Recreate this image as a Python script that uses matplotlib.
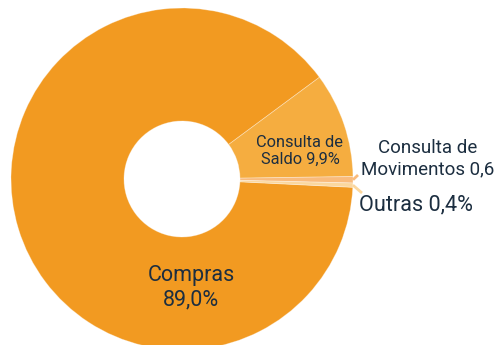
import numpy as np
import matplotlib
matplotlib.use("Agg")
import matplotlib.pyplot as plt

# Transaction share by type (%)
categories = ["Compras", "Consulta de Saldo", "Consulta de Movimentos", "Outras"]
shares = [89.0, 9.9, 0.6, 0.4]
labels = ["Compras\n89,0%", "Consulta de\nSaldo 9,9%", "Consulta de\nMovimentos 0,6", "Outras 0,4%"]
colors = ["#f29a21", "#f5ad40", "#f9bb7c", "#fbd79e"]

W, H = 499, 345
fig = plt.figure(figsize=(W / 100, H / 100), dpi=100)
ax = fig.add_axes([0, 0, 1, 1])

cx, cy = 182, H - 179
r_out, r_in = 171, 58

# Compras ends at 36.5 deg going clockwise, the small slices follow it
total = sum(shares)
start = 36.5 + 360 * shares[0] / total
wedges, _ = ax.pie(shares, colors=colors, startangle=start, counterclock=False,
                   center=(cx, cy), radius=r_out, frame=True,
                   wedgeprops=dict(width=r_out - r_in, edgecolor=(1, 1, 1, 0.35), linewidth=0.6))
ax.set_xlim(0, W)
ax.set_ylim(0, H)
ax.set_aspect("equal")
ax.axis("off")

txt = "#1c2e40"
font = "Roboto"
ax.text(191, H - 288, labels[0], ha="center", va="center", fontsize=15.5, color=txt,
        family=font, linespacing=1.2)
ax.text(300, H - 151, labels[1], ha="center", va="center", fontsize=11.8, color=txt,
        family=font, linespacing=1.22)
ax.text(428, H - 158.5, labels[2], ha="center", va="center", fontsize=13.5, color=txt,
        family=font, linespacing=1.23)
ax.text(359, H - 205, labels[3], ha="left", va="center", fontsize=15.6, color=txt,
        family=font)

# short leader lines for the two thin slices
for w, (ex, ey) in zip(wedges[2:], [(358, H - 175), (362, H - 193)]):
    mid = np.deg2rad((w.theta1 + w.theta2) / 2)
    sx, sy = cx + r_out * np.cos(mid), cy + r_out * np.sin(mid)
    ax.plot([sx, ex], [sy, ey], color=w.get_facecolor(), lw=2, solid_capstyle="butt")

fig.savefig("out.png", dpi=100)
